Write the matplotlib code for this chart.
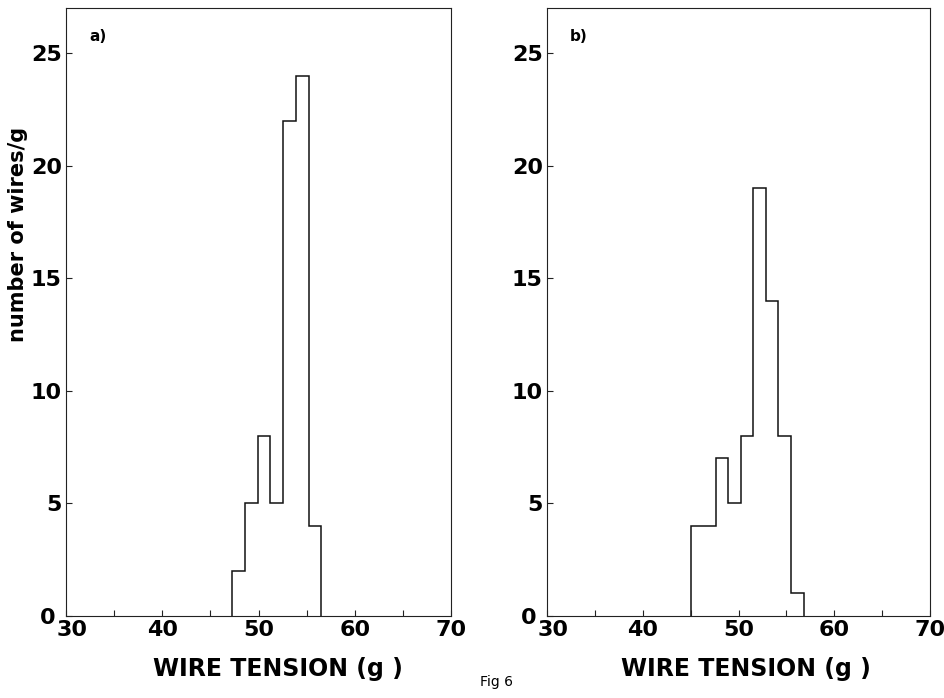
import matplotlib
matplotlib.use("Agg")
import matplotlib.pyplot as plt
import matplotlib.transforms as mtransforms
from matplotlib import font_manager
import numpy as np

# ---- data ----
edges_a = [47.25, 48.575, 49.9, 51.225, 52.55, 53.875, 55.2, 56.525]
counts_a = [2, 5, 8, 5, 22, 24, 4]

edges_b = [45.0, 46.31, 47.62, 48.93, 50.24, 51.55, 52.86, 54.17, 55.48, 56.79]
counts_b = [4, 4, 7, 5, 8, 19, 14, 8, 1]

xticks = [30, 40, 50, 60, 70]
xminor = [35, 45, 55, 65]
yticks = [0, 5, 10, 15, 20, 25]
panel_labels = ["a)", "b)"]
xlabel = "WIRE TENSION (g )"
ylabel = "number of wires/g"
caption = "Fig 6"

plt.rcParams['font.family'] = ['DejaVu Sans']

names = {f.name for f in font_manager.fontManager.ttflist}
tick_family = 'Liberation Sans Narrow' if 'Liberation Sans Narrow' in names else 'DejaVu Sans'
tick_size = 19 if tick_family == 'Liberation Sans Narrow' else 16

fig = plt.figure(figsize=(9.45, 6.98), dpi=100)
W, H = 945, 698
ax1 = fig.add_axes([66 / W, 82 / H, 385 / W, 608 / H])
ax2 = fig.add_axes([547 / W, 82 / H, 383 / W, 608 / H])

for ax, edges, counts, lab in [(ax1, edges_a, counts_a, panel_labels[0]),
                               (ax2, edges_b, counts_b, panel_labels[1])]:
    ax.stairs(counts, edges, color='#111111', lw=1.1)
    ax.set_xlim(30, 70)
    ax.set_ylim(0, 27)
    ax.set_xticks(xticks)
    ax.set_xticks(xminor, minor=True)
    ax.set_yticks(yticks)
    ax.tick_params(axis='both', which='both', direction='in', length=4,
                   width=0.8, color='#222222')
    ax.tick_params(axis='x', which='major', pad=3)
    ax.tick_params(axis='y', which='major', pad=3)
    for t in ax.get_xticklabels() + ax.get_yticklabels():
        t.set_fontweight('bold')
        t.set_fontfamily(tick_family)
        t.set_fontsize(tick_size)
    for s in ax.spines.values():
        s.set_linewidth(0.8)
        s.set_color('#222222')
    ax.text(33.3, 25.75, lab, fontsize=11, fontweight='bold', ha='center', va='center')
    ax.set_xlabel(xlabel, fontsize=17, fontweight='bold')
    # shift the "30" label right and the "0" label left, as in the reference
    xl = ax.get_xticklabels()[0]
    xl.set_transform(xl.get_transform() + mtransforms.ScaledTranslation(6 / 100, 0, fig.dpi_scale_trans))
    yl = ax.get_yticklabels()[0]
    yl.set_transform(yl.get_transform() + mtransforms.ScaledTranslation(-6 / 100, 0, fig.dpi_scale_trans))

ax1.xaxis.set_label_coords(0.55, -0.068)
ax2.xaxis.set_label_coords(0.52, -0.068)

fig.text(18 / W, 1 - 234 / H, ylabel, rotation=90, fontsize=15, fontweight='bold',
         ha='center', va='center')
fig.text(497 / W, 1 - 682 / H, caption, fontsize=10, ha='center', va='center')

fig.savefig("out.png", dpi=100)
